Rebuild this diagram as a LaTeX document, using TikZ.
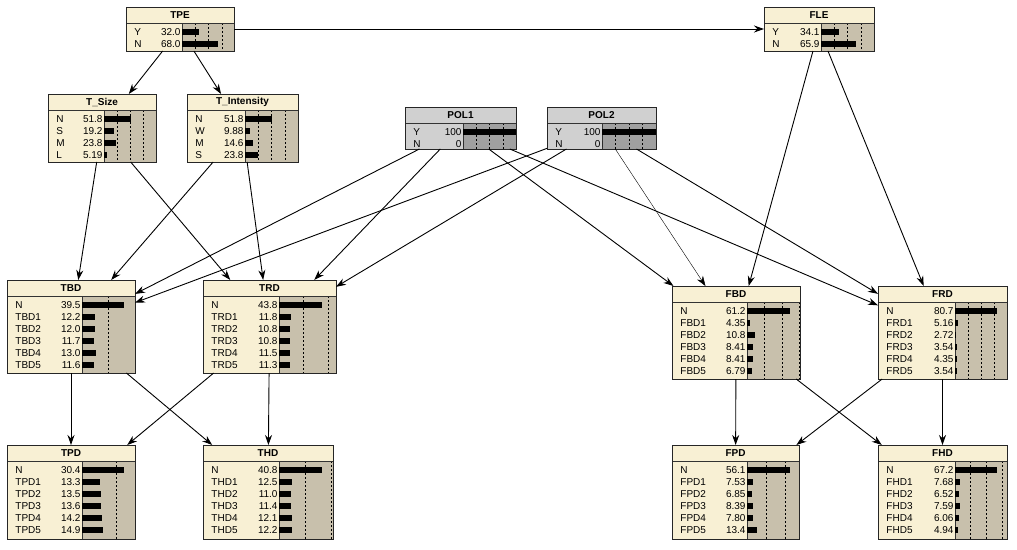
\documentclass[tikz,border=0pt]{standalone}
\usepackage{fontspec}
\setmainfont{Liberation Sans}
\usetikzlibrary{arrows.meta}
\definecolor{bncream}{RGB}{248,240,212}
\definecolor{bntan}{RGB}{200,192,172}
\definecolor{bnpolgray}{RGB}{208,208,208}
\definecolor{bnpolbar}{RGB}{160,160,160}
\tikzset{
  bnbox/.style={fill=bncream, anchor=north west, inner sep=0, outer sep=0},
  bnpol/.style={fill=bnpolgray, anchor=north west, inner sep=0, outer sep=0},
  bntitle/.style={font=\fontsize{10}{11}\selectfont\bfseries, inner sep=0},
  bnstate/.style={anchor=west, inner sep=0, font=\fontsize{10}{11}\selectfont},
  bnvalue/.style={anchor=east, inner sep=0, font=\fontsize{10}{11}\selectfont},
  bnline/.style={line width=1pt, black!80},
  bntick/.style={line width=0.5pt, dash pattern=on 2pt off 2pt},
  bnborder/.style={line width=1pt, black!85}
}
% node body: name, title, bar x, px per percent, ticks, states, bar background
\newcommand{\bnfill}[7]{%
  \node[bntitle] at ([yshift=-8pt]#1.north) {#2};
  \fill[#7] ([xshift=#3pt,yshift=-16pt]#1.north west) rectangle (#1.south east);
  \foreach \t in {#5}
    \draw[bntick] ([xshift=#3pt+\t*#4pt,yshift=-16pt]#1.north west) -- ([xshift=#3pt+\t*#4pt]#1.south west);
  \draw[bnline] ([yshift=-16pt]#1.north west) -- ([yshift=-16pt]#1.north east);
  \draw[bnline] ([xshift=#3pt,yshift=-16pt]#1.north west) -- ([xshift=#3pt]#1.south west);
  \begin{scope}[shift={(#1.north west)}]
    \foreach \s/\v [count=\i from 0] in {#6} {
      \node[bnstate] at (8,25+12*\i) {\s};
      \node[bnvalue] at (#3-1,25+12*\i) {\v};
      \fill (#3,25+12*\i-3) rectangle +(\v*#4,6);
    }
  \end{scope}
  \draw[bnborder] (#1.north west) rectangle (#1.south east);
}

\begin{document}
\begin{tikzpicture}[x=1pt, y=-1pt, >={Stealth[length=10pt,width=7pt]}, line width=0.9pt]
      \useasboundingbox (0,0) rectangle (1017,549);

      \node[bnbox, minimum width=108, minimum height=44] (TPE) at (126,7) {};
      \node[bnbox, minimum width=110, minimum height=44] (FLE) at (764,7) {};
      \node[bnbox, minimum width=108, minimum height=68] (Tsize) at (48,94) {};
      \node[bnbox, minimum width=111, minimum height=68] (Tint) at (187,94) {};
      \node[bnpol, minimum width=111, minimum height=42] (POL1) at (405,107) {};
      \node[bnpol, minimum width=109, minimum height=42] (POL2) at (547,107) {};
      \node[bnbox, minimum width=128, minimum height=93] (TBD) at (7,280) {};
      \node[bnbox, minimum width=133, minimum height=93] (TRD) at (203,280) {};
      \node[bnbox, minimum width=128, minimum height=93] (FBD) at (672,286) {};
      \node[bnbox, minimum width=129, minimum height=93] (FRD) at (878,286) {};
      \node[bnbox, minimum width=128, minimum height=94] (TPD) at (7,445) {};
      \node[bnbox, minimum width=130, minimum height=94] (THD) at (203,445) {};
      \node[bnbox, minimum width=127, minimum height=94] (FPD) at (672,445) {};
      \node[bnbox, minimum width=129, minimum height=94] (FHD) at (878,445) {};

      \bnfill{TPE}{TPE}{56}{0.53}{25,50,75}{Y/32.0,N/68.0}{bntan}
      \bnfill{FLE}{FLE}{57}{0.53}{25,50,75}{Y/34.1,N/65.9}{bntan}
      \bnfill{Tsize}{T\_Size}{56}{0.52}{25,50,75}{N/51.8,S/19.2,M/23.8,L/5.19}{bntan}
      \bnfill{Tint}{T\_Intensity}{58}{0.53}{25,50,75}{N/51.8,W/9.88,M/14.6,S/23.8}{bntan}
      \bnfill{POL1}{POL1}{58}{0.53}{25,50,75}{Y/100,N/0}{bnpolbar}
      \bnfill{POL2}{POL2}{55}{0.54}{25,50,75}{Y/100,N/0}{bnpolbar}
      \bnfill{TBD}{TBD}{75}{1.06}{25}{N/39.5,TBD1/12.2,TBD2/12.0,TBD3/11.7,TBD4/13.0,TBD5/11.6}{bntan}
      \bnfill{TRD}{TRD}{76}{0.98}{25,50}{N/43.8,TRD1/11.8,TRD2/10.8,TRD3/10.8,TRD4/11.5,TRD5/11.3}{bntan}
      \bnfill{FBD}{FBD}{75}{0.70}{25,50,75}{N/61.2,FBD1/4.35,FBD2/10.8,FBD3/8.41,FBD4/8.41,FBD5/6.79}{bntan}
      \bnfill{FRD}{FRD}{77}{0.52}{25,50,75}{N/80.7,FRD1/5.16,FRD2/2.72,FRD3/3.54,FRD4/4.35,FRD5/3.54}{bntan}
      \bnfill{TPD}{TPD}{75}{1.38}{25}{N/30.4,TPD1/13.3,TPD2/13.5,TPD3/13.6,TPD4/14.2,TPD5/14.9}{bntan}
      \bnfill{THD}{THD}{76}{1.05}{25,50}{N/40.8,THD1/12.5,THD2/11.0,THD3/11.4,THD4/12.1,THD5/12.2}{bntan}
      \bnfill{FPD}{FPD}{75}{0.77}{25,50}{N/56.1,FPD1/7.53,FPD2/6.85,FPD3/8.39,FPD4/7.80,FPD5/13.4}{bntan}
      \bnfill{FHD}{FHD}{77}{0.625}{25,50,75}{N/67.2,FHD1/7.68,FHD2/6.52,FHD3/7.59,FHD4/6.06,FHD5/4.94}{bntan}

      \draw[->] (TPE) -- (FLE);
      \draw[->] (TPE) -- (Tsize);
      \draw[->] (TPE) -- (Tint);
      \draw[->] (Tsize) -- (TBD);
      \draw[->] (Tsize) -- (TRD);
      \draw[->] (Tint) -- (TBD);
      \draw[->] (Tint) -- (TRD);
      \draw[->] (POL1) -- (TBD);
      \draw[->] (POL1) -- (TRD);
      \draw[->] (POL1) -- (FBD);
      \draw[->] (POL1) -- (FRD);
      \draw[->] (POL2) -- (TBD);
      \draw[->] (POL2) -- (TRD);
      \draw[->,line width=0.4pt] (POL2) -- (FBD);
      \draw[->] (POL2) -- (FRD);
      \draw[->] (FLE) -- (FBD);
      \draw[->] (FLE) -- (FRD);
      \draw[->] (TBD) -- (TPD);
      \draw[->] (TBD) -- (THD);
      \draw[->] (TRD) -- (TPD);
      \draw[->] (TRD) -- (THD);
      \draw[->] (FBD) -- (FPD);
      \draw[->] (FBD) -- (FHD);
      \draw[->] (FRD) -- (FPD);
      \draw[->] (FRD) -- (FHD);
    \end{tikzpicture}
\end{document}
